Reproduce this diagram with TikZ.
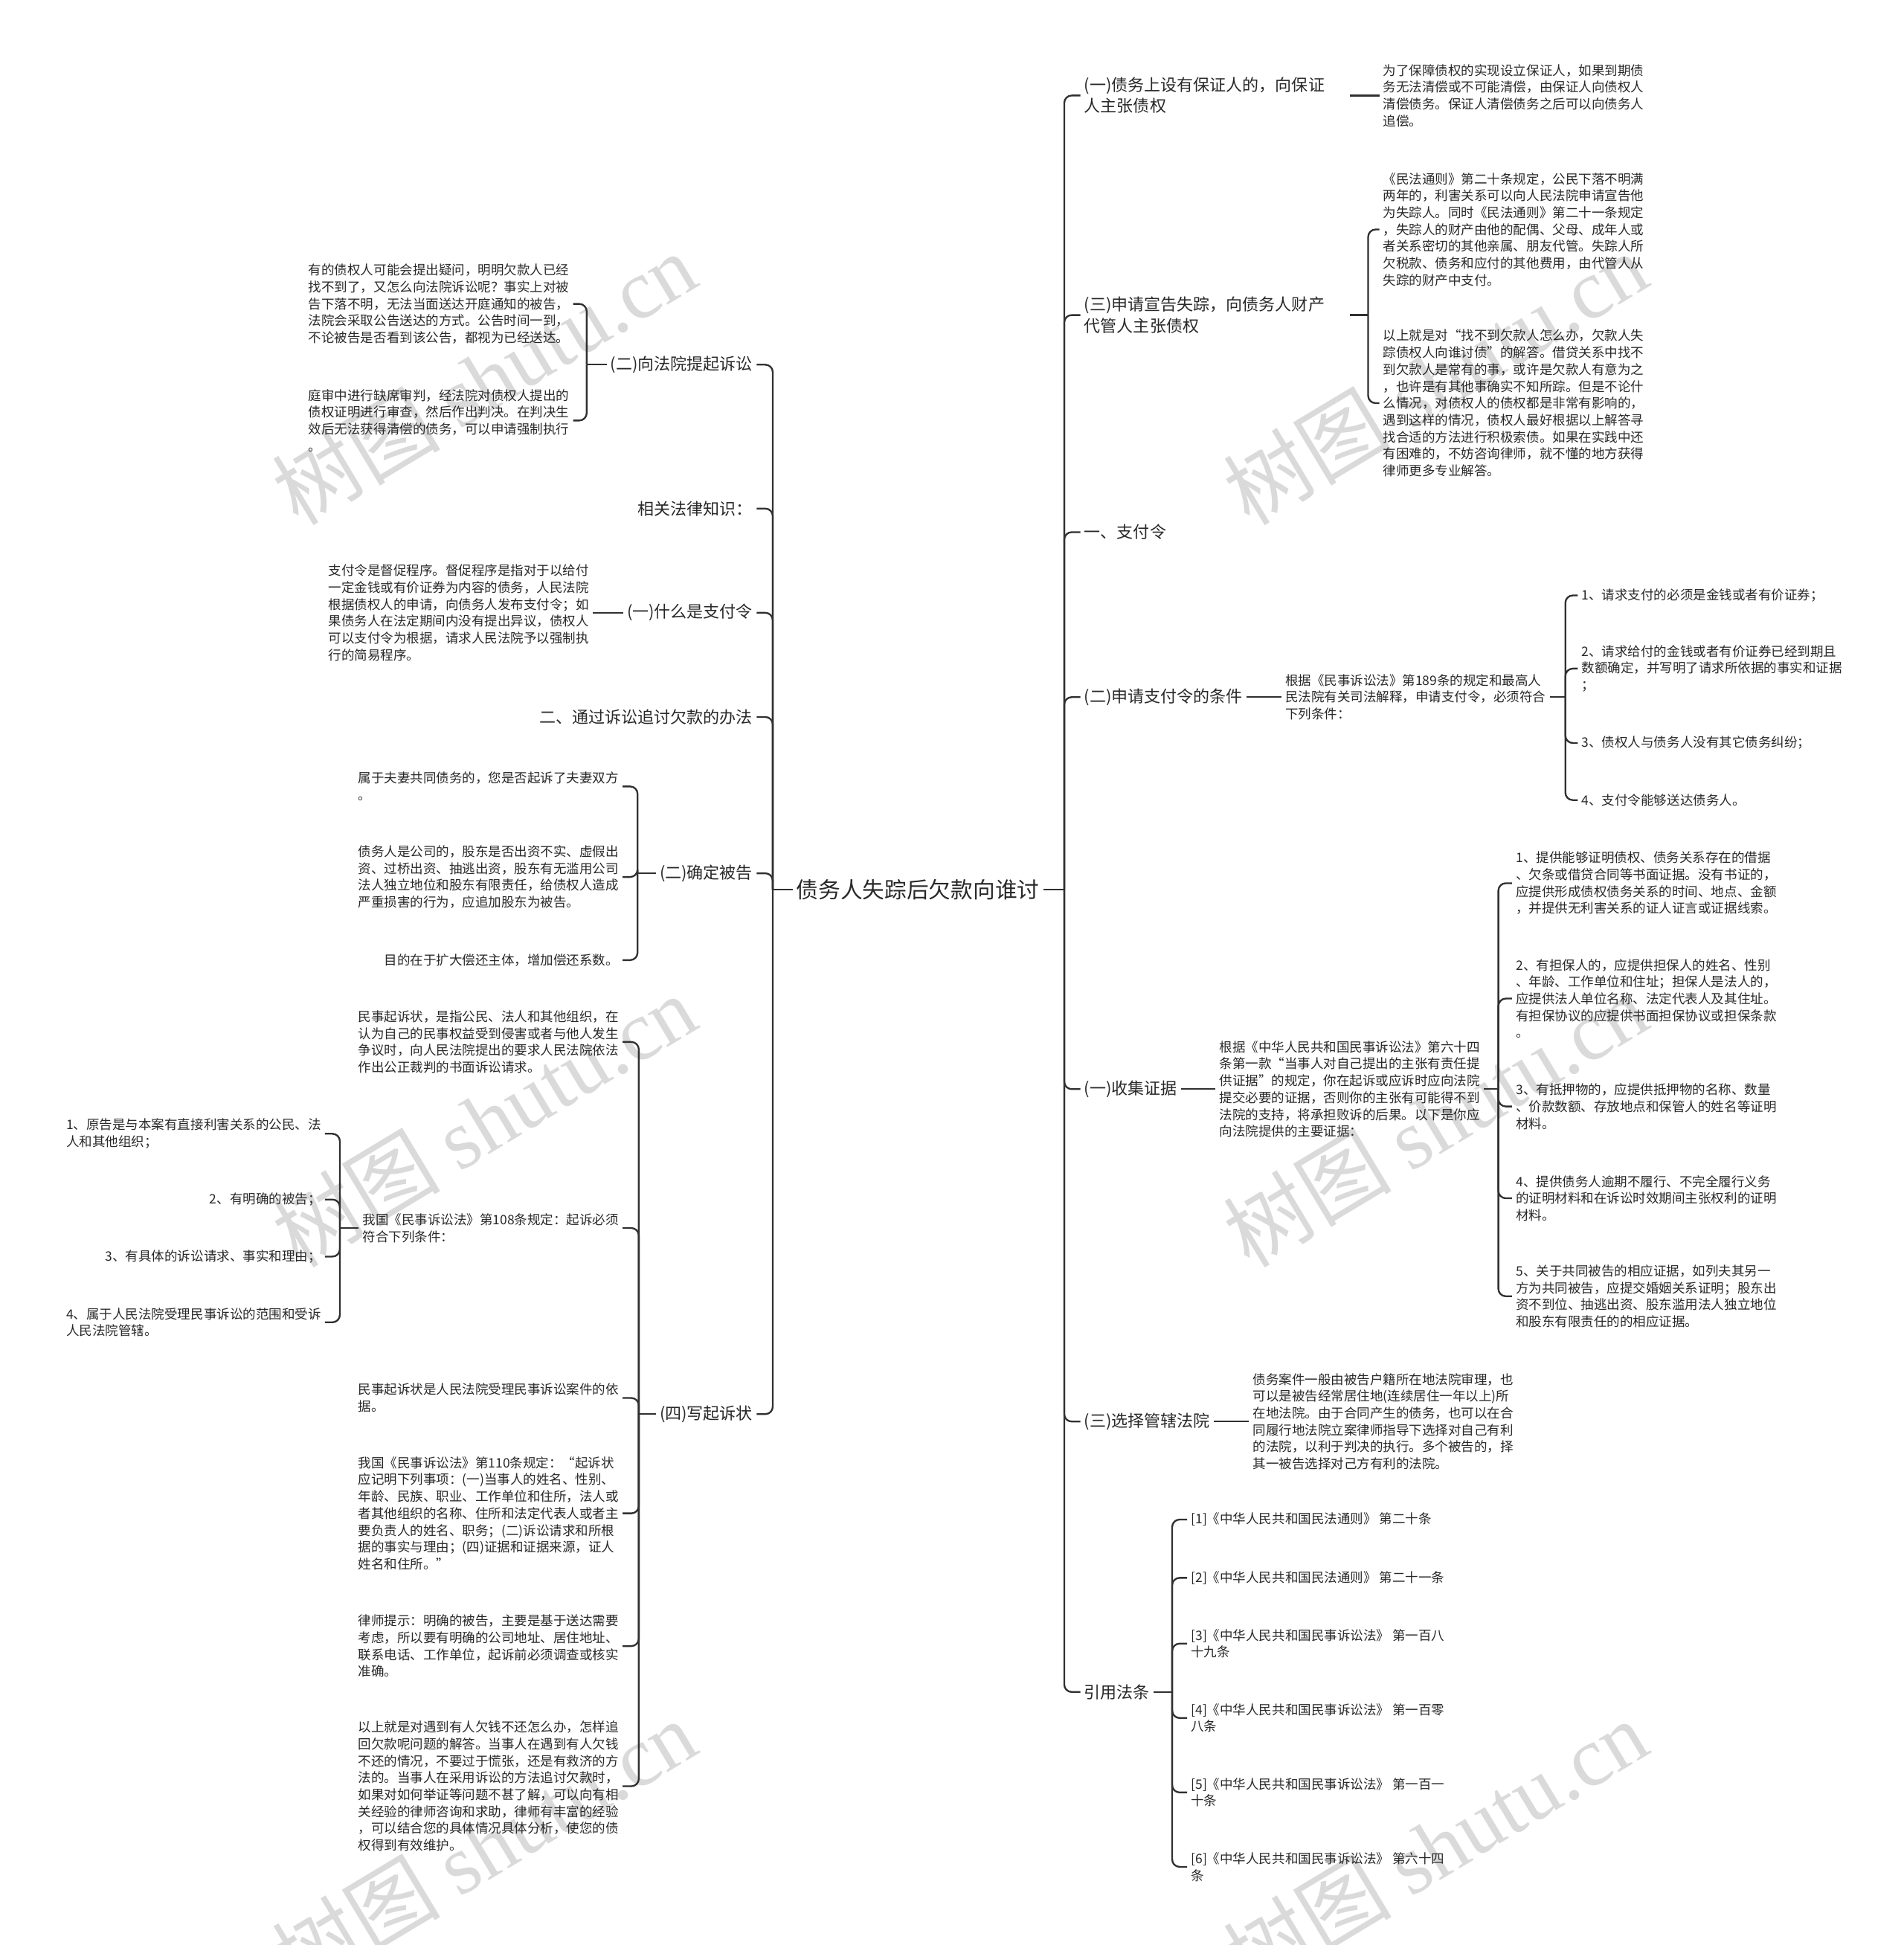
\documentclass[tikz,border=0pt]{standalone}
\usepackage{fontspec}
\setmainfont{Noto Sans CJK SC}
\newfontfamily\wmlatin{Liberation Serif}
\definecolor{linkgray}{RGB}{48,48,48}
\definecolor{textgray}{RGB}{40,40,40}
\definecolor{markgray}{RGB}{218,218,218}
\usetikzlibrary{positioning,calc}

\tikzset{
  rootnode/.style={font=\fontsize{17.8}{22}\selectfont, text=textgray, inner sep=3pt},
  topic/.style={font=\fontsize{13.2}{17}\selectfont, text=textgray, align=left, inner sep=3pt},
  leaf/.style={font=\fontsize{10.5}{13.6}\selectfont, text=textgray, align=left, inner sep=3pt},
  link/.style={draw=linkgray, line width=1.4pt, rounded corners=6pt},
  watermark/.style={text=markgray, rotate=31, inner sep=0pt, font=\fontsize{68}{68}\selectfont},
}

\begin{document}
\begin{tikzpicture}[x=1pt, y=-1pt]
\useasboundingbox (0,0) rectangle (1535,1568);

% watermarks
\foreach \wx/\wy [count=\i] in {390/305, 1157/305, 390/903, 1157/903, 390/1488, 1157/1488}
  \node[watermark] (mark\i) at (\wx,\wy) {树图 {\wmlatin shutu.cn}};

% root
\node[rootnode] (root) at (740,717) {债务人失踪后欠款向谁讨};

% left topics
\node[topic, anchor=east] (lsuit) at (610,294) {(二)向法院提起诉讼};
\node[topic, anchor=east] (lknow) at (610,410) {相关法律知识：};
\node[topic, anchor=east] (lorder) at (610,494) {(一)什么是支付令};
\node[topic, anchor=east] (lmethod) at (610,578) {二、通过诉讼追讨欠款的办法};
\node[topic, anchor=east] (ldefend) at (610,704) {(二)确定被告};
\node[topic, anchor=east] (lcomplaint) at (610,1140) {(四)写起诉状};

% right topics
\node[topic, anchor=west, text width=211pt] (rguar) at (871,77) {(一)债务上设有保证人的，向保证\\人主张债权};
\node[topic, anchor=west, text width=211pt] (rmiss) at (871,254) {(三)申请宣告失踪，向债务人财产\\代管人主张债权};
\node[topic, anchor=west] (rpay) at (871,429) {一、支付令};
\node[topic, anchor=west] (rcond) at (871,562) {(二)申请支付令的条件};
\node[topic, anchor=west] (revid) at (871,878) {(一)收集证据};
\node[topic, anchor=west] (rcourt) at (871,1146) {(三)选择管辖法院};
\node[topic, anchor=west] (rlaw) at (871,1364) {引用法条};

% (二)向法院提起诉讼
\node[leaf, anchor=east] (lsuitA) at (462,245) {有的债权人可能会提出疑问，明明欠款人已经\\找不到了，又怎么向法院诉讼呢？事实上对被\\告下落不明，无法当面送达开庭通知的被告，\\法院会采取公告送达的方式。公告时间一到，\\不论被告是否看到该公告，都视为已经送达。};
\node[leaf, anchor=east] (lsuitB) at (462,339) {庭审中进行缺席审判，经法院对债权人提出的\\债权证明进行审查，然后作出判决。在判决生\\效后无法获得清偿的债务，可以申请强制执行\\。};

% (一)什么是支付令
\node[leaf, anchor=east] (lorderA) at (478,494) {支付令是督促程序。督促程序是指对于以给付\\一定金钱或有价证券为内容的债务，人民法院\\根据债权人的申请，向债务人发布支付令；如\\果债务人在法定期间内没有提出异议，债权人\\可以支付令为根据，请求人民法院予以强制执\\行的简易程序。};

% (二)确定被告
\node[leaf, anchor=east] (ldefendA) at (502,634) {属于夫妻共同债务的，您是否起诉了夫妻双方\\。};
\node[leaf, anchor=east] (ldefendB) at (502,707) {债务人是公司的，股东是否出资不实、虚假出\\资、过桥出资、抽逃出资，股东有无滥用公司\\法人独立地位和股东有限责任，给债权人造成\\严重损害的行为，应追加股东为被告。};
\node[leaf, anchor=east] (ldefendC) at (502,774) {目的在于扩大偿还主体，增加偿还系数。};

% (四)写起诉状
\node[leaf, anchor=east] (lcomplaintA) at (502,840) {民事起诉状，是指公民、法人和其他组织，在\\认为自己的民事权益受到侵害或者与他人发生\\争议时，向人民法院提出的要求人民法院依法\\作出公正裁判的书面诉讼请求。};
\node[leaf, anchor=east] (lcomplaintB) at (502,990) {我国《民事诉讼法》第108条规定：起诉必须\\符合下列条件：};
\node[leaf, anchor=east] (lcomplaintC) at (502,1127) {民事起诉状是人民法院受理民事诉讼案件的依\\据。};
\node[leaf, anchor=east] (lcomplaintD) at (502,1220) {我国《民事诉讼法》第110条规定：“起诉状\\应记明下列事项：(一)当事人的姓名、性别、\\年龄、民族、职业、工作单位和住所，法人或\\者其他组织的名称、住所和法定代表人或者主\\要负责人的姓名、职务；(二)诉讼请求和所根\\据的事实与理由；(四)证据和证据来源，证人\\姓名和住所。”};
\node[leaf, anchor=east] (lcomplaintE) at (502,1327) {律师提示：明确的被告，主要是基于送达需要\\考虑，所以要有明确的公司地址、居住地址、\\联系电话、工作单位，起诉前必须调查或核实\\准确。};
\node[leaf, anchor=east] (lcomplaintF) at (502,1440) {以上就是对遇到有人欠钱不还怎么办，怎样追\\回欠款呢问题的解答。当事人在遇到有人欠钱\\不还的情况，不要过于慌张，还是有救济的方\\法的。当事人在采用诉讼的方法追讨欠款时，\\如果对如何举证等问题不甚了解，可以向有相\\关经验的律师咨询和求助，律师有丰富的经验\\，可以结合您的具体情况具体分析，使您的债\\权得到有效维护。};

% 第108条 conditions
\node[leaf, anchor=east] (lreqA) at (262,914) {1、原告是与本案有直接利害关系的公民、法\\人和其他组织；};
\node[leaf, anchor=east] (lreqB) at (262,967) {2、有明确的被告；};
\node[leaf, anchor=east] (lreqC) at (262,1013) {3、有具体的诉讼请求、事实和理由；};
\node[leaf, anchor=east] (lreqD) at (262,1066) {4、属于人民法院受理民事诉讼的范围和受诉\\人民法院管辖。};

% (一)保证人
\node[leaf, anchor=west] (rguarA) at (1112,77) {为了保障债权的实现设立保证人，如果到期债\\务无法清偿或不可能清偿，由保证人向债权人\\清偿债务。保证人清偿债务之后可以向债务人\\追偿。};

% (三)申请宣告失踪
\node[leaf, anchor=west] (rmissA) at (1112,185) {《民法通则》第二十条规定，公民下落不明满\\两年的，利害关系可以向人民法院申请宣告他\\为失踪人。同时《民法通则》第二十一条规定\\，失踪人的财产由他的配偶、父母、成年人或\\者关系密切的其他亲属、朋友代管。失踪人所\\欠税款、债务和应付的其他费用，由代管人从\\失踪的财产中支付。};
\node[leaf, anchor=west] (rmissB) at (1112,325) {以上就是对“找不到欠款人怎么办，欠款人失\\踪债权人向谁讨债”的解答。借贷关系中找不\\到欠款人是常有的事，或许是欠款人有意为之\\，也许是有其他事确实不知所踪。但是不论什\\么情况，对债权人的债权都是非常有影响的，\\遇到这样的情况，债权人最好根据以上解答寻\\找合适的方法进行积极索债。如果在实践中还\\有困难的，不妨咨询律师，就不懂的地方获得\\律师更多专业解答。};

% (二)申请支付令的条件
\node[leaf, anchor=west] (rcondA) at (1033,562) {根据《民事诉讼法》第189条的规定和最高人\\民法院有关司法解释，申请支付令，必须符合\\下列条件：};
\node[leaf, anchor=west] (rcondB) at (1272,480) {1、请求支付的必须是金钱或者有价证券；};
\node[leaf, anchor=west] (rcondC) at (1272,539) {2、请求给付的金钱或者有价证券已经到期且\\数额确定，并写明了请求所依据的事实和证据\\；};
\node[leaf, anchor=west] (rcondD) at (1272,599) {3、债权人与债务人没有其它债务纠纷；};
\node[leaf, anchor=west] (rcondE) at (1272,645) {4、支付令能够送达债务人。};

% (一)收集证据
\node[leaf, anchor=west] (revidA) at (980,878) {根据《中华人民共和国民事诉讼法》第六十四\\条第一款“当事人对自己提出的主张有责任提\\供证据”的规定，你在起诉或应诉时应向法院\\提交必要的证据，否则你的主张有可能得不到\\法院的支持，将承担败诉的后果。以下是你应\\向法院提供的主要证据：};
\node[leaf, anchor=west] (revidB) at (1219,712) {1、提供能够证明债权、债务关系存在的借据\\、欠条或借贷合同等书面证据。没有书证的，\\应提供形成债权债务关系的时间、地点、金额\\，并提供无利害关系的证人证言或证据线索。};
\node[leaf, anchor=west] (revidC) at (1219,805) {2、有担保人的，应提供担保人的姓名、性别\\、年龄、工作单位和住址；担保人是法人的，\\应提供法人单位名称、法定代表人及其住址。\\有担保协议的应提供书面担保协议或担保条款\\。};
\node[leaf, anchor=west] (revidD) at (1219,892) {3、有抵押物的，应提供抵押物的名称、数量\\、价款数额、存放地点和保管人的姓名等证明\\材料。};
\node[leaf, anchor=west] (revidE) at (1219,966) {4、提供债务人逾期不履行、不完全履行义务\\的证明材料和在诉讼时效期间主张权利的证明\\材料。};
\node[leaf, anchor=west] (revidF) at (1219,1045) {5、关于共同被告的相应证据，如列夫其另一\\方为共同被告，应提交婚姻关系证明；股东出\\资不到位、抽逃出资、股东滥用法人独立地位\\和股东有限责任的的相应证据。};

% (三)选择管辖法院
\node[leaf, anchor=west] (rcourtA) at (1007,1146) {债务案件一般由被告户籍所在地法院审理，也\\可以是被告经常居住地(连续居住一年以上)所\\在地法院。由于合同产生的债务，也可以在合\\同履行地法院立案律师指导下选择对自己有利\\的法院，以利于判决的执行。多个被告的，择\\其一被告选择对己方有利的法院。};

% 引用法条
\node[leaf, anchor=west] (rlawA) at (957,1225) {[1]《中华人民共和国民法通则》 第二十条};
\node[leaf, anchor=west] (rlawB) at (957,1272) {[2]《中华人民共和国民法通则》 第二十一条};
\node[leaf, anchor=west] (rlawC) at (957,1325) {[3]《中华人民共和国民事诉讼法》 第一百八\\十九条};
\node[leaf, anchor=west] (rlawD) at (957,1385) {[4]《中华人民共和国民事诉讼法》 第一百零\\八条};
\node[leaf, anchor=west] (rlawE) at (957,1445) {[5]《中华人民共和国民事诉讼法》 第一百一\\十条};
\node[leaf, anchor=west] (rlawF) at (957,1505) {[6]《中华人民共和国民事诉讼法》 第六十四\\条};

% forks
\coordinate (lspine) at (623,717);
\coordinate (rspine) at (858,717);
\coordinate (lsuitfork) at (473,294);
\coordinate (ldefendfork) at (514,704);
\coordinate (lcomplaintfork) at (515,1140);
\coordinate (lreqfork) at (274,990);
\coordinate (rmissfork) at (1103,254);
\coordinate (rcondfork) at (1262,562);
\coordinate (revidfork) at (1208,878);
\coordinate (rlawfork) at (945,1364);

% connectors, left side
\draw[link] (root.west) -- (lspine);
\foreach \n in {lsuit,lknow,lorder,lmethod,ldefend,lcomplaint}
  \draw[link] (lspine) |- (\n.east);
\draw[link] (lsuit.west) -- (lsuitfork);
\foreach \n in {lsuitA,lsuitB}
  \draw[link] (lsuitfork) |- (\n.east);
\draw[link] (lorder.west) -- (lorder.west -| lorderA.east);
\draw[link] (ldefend.west) -- (ldefendfork);
\foreach \n in {ldefendA,ldefendB,ldefendC}
  \draw[link] (ldefendfork) |- (\n.east);
\draw[link] (lcomplaint.west) -- (lcomplaintfork);
\foreach \n in {lcomplaintA,lcomplaintB,lcomplaintC,lcomplaintD,lcomplaintE,lcomplaintF}
  \draw[link] (lcomplaintfork) |- (\n.east);
\draw[link] (lcomplaintB.west) -- (lreqfork);
\foreach \n in {lreqA,lreqB,lreqC,lreqD}
  \draw[link] (lreqfork) |- (\n.east);

% connectors, right side
\draw[link] (root.east) -- (rspine);
\foreach \n in {rguar,rmiss,rpay,rcond,revid,rcourt,rlaw}
  \draw[link] (rspine) |- (\n.west);
\draw[link] (rguar.east) -- (rguar.east -| rguarA.west);
\draw[link] (rmiss.east) -- (rmissfork);
\foreach \n in {rmissA,rmissB}
  \draw[link] (rmissfork) |- (\n.west);
\draw[link] (rcond.east) -- (rcond.east -| rcondA.west);
\draw[link] (rcondA.east) -- (rcondfork);
\foreach \n in {rcondB,rcondC,rcondD,rcondE}
  \draw[link] (rcondfork) |- (\n.west);
\draw[link] (revid.east) -- (revid.east -| revidA.west);
\draw[link] (revidA.east) -- (revidfork);
\foreach \n in {revidB,revidC,revidD,revidE,revidF}
  \draw[link] (revidfork) |- (\n.west);
\draw[link] (rcourt.east) -- (rcourt.east -| rcourtA.west);
\draw[link] (rlaw.east) -- (rlawfork);
\foreach \n in {rlawA,rlawB,rlawC,rlawD,rlawE,rlawF}
  \draw[link] (rlawfork) |- (\n.west);
\end{tikzpicture}
\end{document}
